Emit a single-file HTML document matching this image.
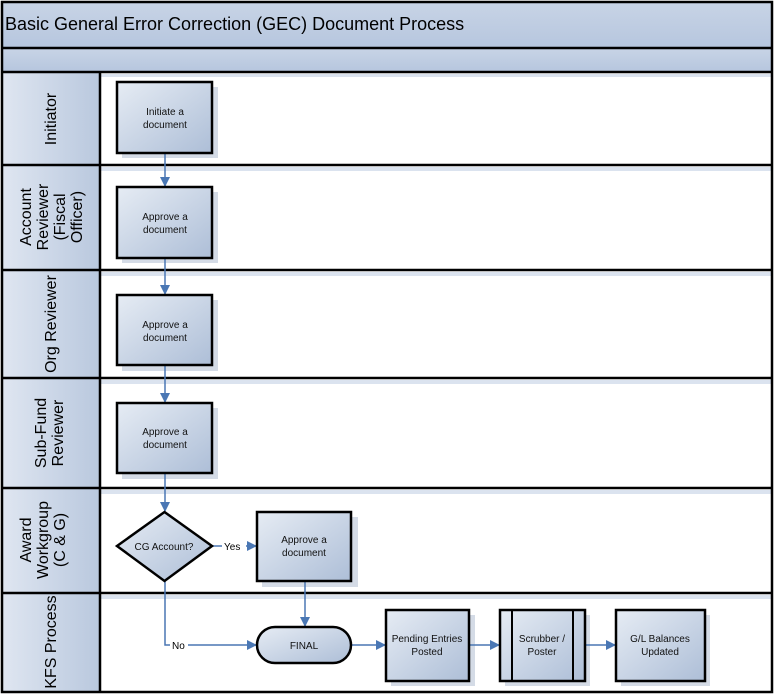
<!DOCTYPE html>
<html><head><meta charset="utf-8"><style>
html,body{margin:0;padding:0;background:#fff;width:778px;height:699px;overflow:hidden}
text{font-family:"Liberation Sans",Arial,sans-serif}
</style></head><body>
<svg width="778" height="699" viewBox="0 0 778 699" xmlns="http://www.w3.org/2000/svg">
<defs>
<linearGradient id="bx" x1="0" y1="0" x2="1" y2="1">
<stop offset="0" stop-color="#e6ecf4"/><stop offset="1" stop-color="#adbed7"/></linearGradient>
<linearGradient id="hd" x1="0" y1="0" x2="0" y2="1">
<stop offset="0" stop-color="#c8d4e6"/><stop offset="1" stop-color="#b6c6de"/></linearGradient>
<linearGradient id="ln" x1="0" y1="0" x2="1" y2="0">
<stop offset="0" stop-color="#dfe6f1"/><stop offset="1" stop-color="#b9c8de"/></linearGradient>
<marker id="ar" markerWidth="10" markerHeight="10" refX="9" refY="5" orient="auto" markerUnits="userSpaceOnUse">
<path d="M0,0 L10,5 L0,10 Z" fill="#4a77b4"/></marker>
</defs>
<rect x="0" y="0" width="778" height="699" fill="#fff"/>
<rect x="2" y="2" width="770" height="46" fill="url(#hd)"/>
<rect x="2" y="48" width="770" height="24" fill="url(#hd)"/>
<text x="5" y="30" font-size="18" fill="#000">Basic General Error Correction (GEC) Document Process</text>
<rect x="2" y="72" width="98" height="620" fill="url(#ln)"/>
<g fill="#dbe3ef">
<rect x="100" y="167" width="672" height="4"/><rect x="100" y="272" width="672" height="4"/>
<rect x="100" y="380" width="672" height="4"/><rect x="100" y="490" width="672" height="4"/>
<rect x="100" y="595" width="672" height="4"/><rect x="100" y="74" width="672" height="3"/>
</g>
<g stroke="#000" stroke-width="2.5" fill="none">
<rect x="2" y="2" width="770" height="690"/>
<line x1="2" y1="48" x2="772" y2="48"/>
<line x1="2" y1="72" x2="772" y2="72"/>
<line x1="100" y1="72" x2="100" y2="692"/>
<line x1="2" y1="165" x2="772" y2="165"/>
<line x1="2" y1="270" x2="772" y2="270"/>
<line x1="2" y1="378" x2="772" y2="378"/>
<line x1="2" y1="488" x2="772" y2="488"/>
<line x1="2" y1="593" x2="772" y2="593"/>
</g>
<g font-size="16" fill="#000" text-anchor="middle">
<text transform="translate(56,119) rotate(-90)">Initiator</text>
<text transform="translate(31,217) rotate(-90)">Account</text>
<text transform="translate(48,217) rotate(-90)">Reviewer</text>
<text transform="translate(65,217) rotate(-90)">(Fiscal</text>
<text transform="translate(82,217) rotate(-90)">Officer)</text>
<text transform="translate(56,324) rotate(-90)">Org Reviewer</text>
<text transform="translate(46,433) rotate(-90)">Sub-Fund</text>
<text transform="translate(63,433) rotate(-90)">Reviewer</text>
<text transform="translate(31,540) rotate(-90)">Award</text>
<text transform="translate(48,540) rotate(-90)">Workgroup</text>
<text transform="translate(65,540) rotate(-90)">(C &amp; G)</text>
<text transform="translate(56,642) rotate(-90)">KFS Process</text>
</g>
<g fill="#d4dbe6">
<rect x="122" y="87" width="96" height="71"/><rect x="122" y="192" width="96" height="71"/>
<rect x="122" y="300" width="96" height="71"/><rect x="122" y="408" width="96" height="71"/>
<rect x="262" y="517" width="96" height="70"/>
<rect x="391" y="615" width="84" height="71"/><rect x="505" y="615" width="85" height="71"/>
<rect x="621" y="615" width="89" height="71"/>
</g>
<g stroke="#4a77b4" stroke-width="1.5" fill="none">
<line x1="165" y1="153" x2="165" y2="186" marker-end="url(#ar)"/>
<line x1="165" y1="258" x2="165" y2="294" marker-end="url(#ar)"/>
<line x1="165" y1="365" x2="165" y2="402" marker-end="url(#ar)"/>
<line x1="165" y1="473" x2="165" y2="511" marker-end="url(#ar)"/>
<polyline points="212,546 256,546" marker-end="url(#ar)"/>
<polyline points="305,581 305,626" marker-end="url(#ar)"/>
<polyline points="165,581 165,645 256,645" marker-end="url(#ar)"/>
<line x1="351" y1="645" x2="385" y2="645" marker-end="url(#ar)"/>
<line x1="469" y1="645" x2="499" y2="645" marker-end="url(#ar)"/>
<line x1="585" y1="645" x2="615" y2="645" marker-end="url(#ar)"/>
</g>
<rect x="222" y="538" width="24" height="14" fill="#fff"/>
<text x="224" y="550" font-size="10">Yes</text>
<rect x="170" y="638" width="18" height="14" fill="#fff"/>
<text x="172" y="649" font-size="10">No</text>
<g stroke="#000" stroke-width="2.5" fill="url(#bx)">
<rect x="117" y="82" width="95" height="71"/>
<rect x="117" y="187" width="95" height="71"/>
<rect x="117" y="295" width="95" height="70"/>
<rect x="117" y="403" width="95" height="70"/>
<polygon points="164.5,512 212,546 164.5,581 117,546"/>
<rect x="257" y="512" width="94" height="69"/>
<rect x="257" y="627" width="94" height="36" rx="18"/>
<rect x="386" y="610" width="83" height="71"/>
<rect x="500" y="610" width="85" height="71"/>
<rect x="616" y="610" width="89" height="71"/>
</g>
<g stroke="#000" stroke-width="2"><line x1="512" y1="610" x2="512" y2="681"/><line x1="573" y1="610" x2="573" y2="681"/></g>
<g font-size="10" fill="#111" text-anchor="middle">
<text x="165" y="115">Initiate a</text><text x="165" y="128">document</text>
<text x="165" y="220">Approve a</text><text x="165" y="233">document</text>
<text x="165" y="328">Approve a</text><text x="165" y="341">document</text>
<text x="165" y="435">Approve a</text><text x="165" y="448">document</text>
<text x="164" y="550">CG Account?</text>
<text x="304" y="543">Approve a</text><text x="304" y="556">document</text>
<text x="304" y="649">FINAL</text>
<text x="427" y="642">Pending Entries</text><text x="427" y="655">Posted</text>
<text x="542" y="642">Scrubber /</text><text x="542" y="655">Poster</text>
<text x="660" y="642">G/L Balances</text><text x="660" y="655">Updated</text>
</g>
</svg>
</body></html>
